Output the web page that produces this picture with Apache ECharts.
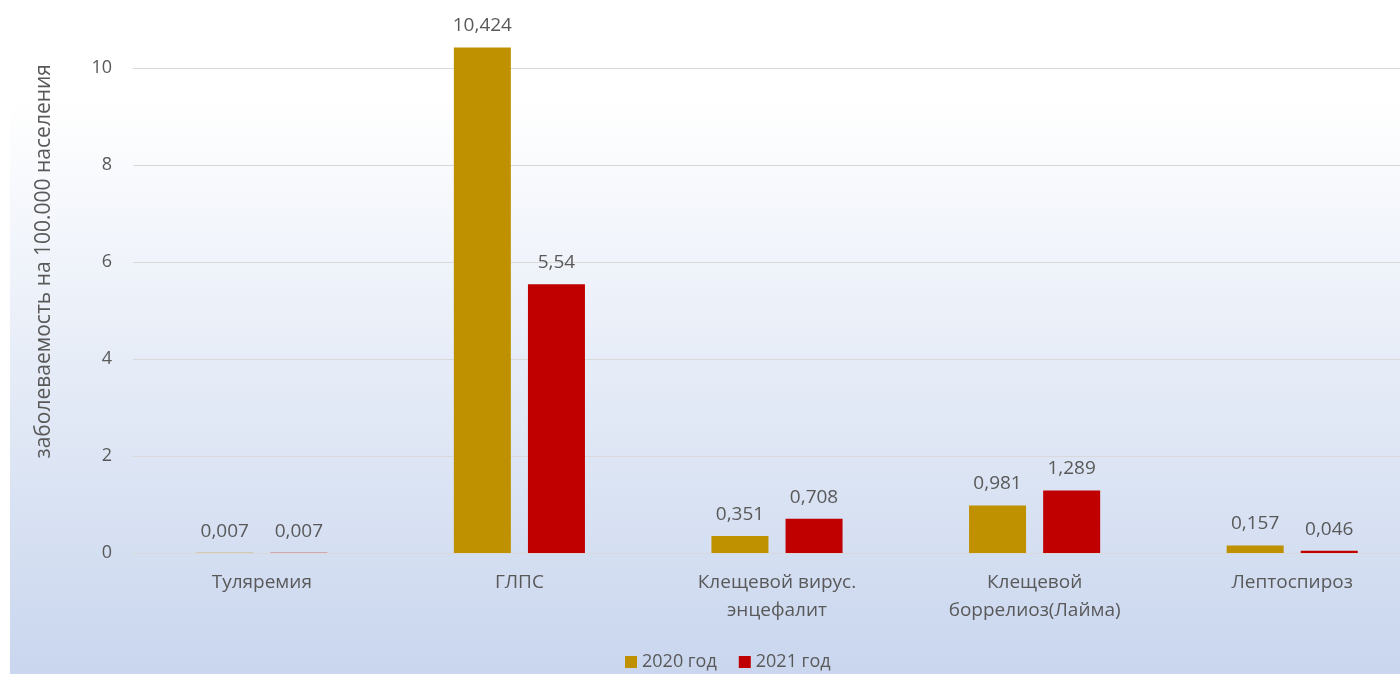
<!DOCTYPE html>
<html>
<head>
<meta charset="utf-8">
<script src="https://cdn.jsdelivr.net/npm/echarts@6/dist/echarts.min.js"></script>
<style>
  html, body { margin: 0; padding: 0; background: #ffffff; overflow: hidden; }
  #wrap { width: 1400px; height: 674px; overflow: hidden; }
  /* the plot runs slightly past the right edge of the page */
  #chart { width: 1421px; height: 674px; }
</style>
</head>
<body>
<div id="wrap"><div id="chart"></div></div>
<script>
// Incidence of natural-focal infections per 100,000 population
const categories = [
  'Туляремия',
  'ГЛПС',
  'Клещевой вирус.\nэнцефалит',
  'Клещевой\nборрелиоз(Лайма)',
  'Лептоспироз'
];
const seriesNames = ['2020 год', '2021 год'];
const values2020 = [0.007, 10.424, 0.351, 0.981, 0.157];
const values2021 = [0.007, 5.54, 0.708, 1.289, 0.046];
const yMin = 0;
const yMax = 11;
const yStep = 2;
const yAxisTitle = 'заболеваемость на 100.000 населения';

const colors = ['#bf9000', '#c00000'];
const textColor = '#595959';
const font = 'Open Sans';

const fmt = v => String(v).replace('.', ',');

const chart = echarts.init(document.getElementById('chart'));

function makeSeries(name, data, color) {
  return {
    name: name,
    type: 'bar',
    data: data,
    barWidth: 57,
    barGap: '30%',
    itemStyle: { color: color },
    label: {
      show: true,
      position: 'top',
      distance: 12,
      color: textColor,
      fontFamily: font,
      fontSize: 19,
      formatter: p => fmt(p.value)
    }
  };
}

chart.setOption({
  animation: false,
  textStyle: { fontFamily: font },
  graphic: [{
    type: 'rect',
    z: -10,
    shape: { x: 10, y: 0, width: 1411, height: 674 },
    style: {
      fill: new echarts.graphic.LinearGradient(0, 0, 0, 1, [
        { offset: 0, color: '#ffffff' },
        { offset: 0.15, color: '#ffffff' },
        { offset: 1, color: '#c9d6ee' }
      ])
    },
    silent: true
  }],
  legend: {
    data: seriesNames,
    left: 620,
    top: 648,
    itemWidth: 12,
    itemHeight: 12,
    itemGap: 22,
    icon: 'rect',
    textStyle: { color: textColor, fontFamily: font, fontSize: 18 }
  },
  grid: {
    left: 133,
    right: 0,
    top: 19.5,
    height: 533.5,
    containLabel: false
  },
  xAxis: {
    type: 'category',
    data: categories,
    axisLine: { show: true, lineStyle: { color: '#d9d9d9' } },
    axisTick: { show: false },
    axisLabel: {
      color: textColor,
      fontFamily: font,
      fontSize: 19,
      margin: 16,
      lineHeight: 28
    }
  },
  yAxis: {
    type: 'value',
    min: yMin,
    max: yMax,
    interval: yStep,
    name: yAxisTitle,
    nameLocation: 'middle',
    nameGap: 78,
    nameRotate: 90,
    nameTextStyle: {
      color: textColor,
      fontFamily: font,
      fontSize: 21,
      padding: [0, 0, 0, 50]
    },
    axisLine: { show: false },
    axisTick: { show: false },
    axisLabel: {
      color: textColor,
      fontFamily: font,
      fontSize: 18,
      margin: 21,
      showMaxLabel: false
    },
    splitLine: {
      showMaxLine: false,
      lineStyle: { color: '#d9d9d9', width: 1 }
    }
  },
  series: [
    makeSeries(seriesNames[0], values2020, colors[0]),
    makeSeries(seriesNames[1], values2021, colors[1])
  ]
});
</script>
</body>
</html>
